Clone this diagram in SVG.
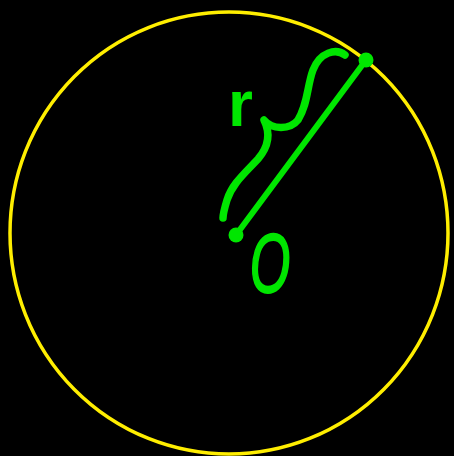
<svg xmlns="http://www.w3.org/2000/svg" width="454" height="456" viewBox="0 0 454 456">
<style>
.g{stroke:#00e600;fill:none;stroke-linecap:round;stroke-linejoin:round}
.t{fill:#00e600;font-family:"Liberation Sans",Arial,sans-serif}
</style>
<rect width="454" height="456" fill="#000"/>
<g id="circle">
<ellipse cx="229" cy="233" rx="219" ry="221" fill="none" stroke="#ffee00" stroke-width="3.5"/>
</g>
<g id="connectors">
<line class="g" x1="236" y1="235" x2="366" y2="60" stroke-width="6"/>
<path class="g" stroke-width="7.5" d="M345 55 C336 48 320 52 313 70 C307 86 308 104 298 120 C290 130 272 130 264 120 C270 132 270 145 258 159 C244 174 232 184 227 200 C224 210 223 214 223 218"/>
</g>
<g id="center-point"><circle cx="236" cy="235" r="7.5" fill="#00e600"/></g>
<g id="edge-point"><circle cx="366" cy="60" r="7.5" fill="#00e600"/></g>
<g id="label-r"><text class="t" x="228" y="126" font-size="64" font-weight="bold">r</text></g>
<g id="label-O"><text class="t" transform="translate(270,292) scale(0.62,1)" text-anchor="middle" font-size="84" font-style="italic" stroke="#00e600" stroke-width="2">O</text></g>
</svg>
